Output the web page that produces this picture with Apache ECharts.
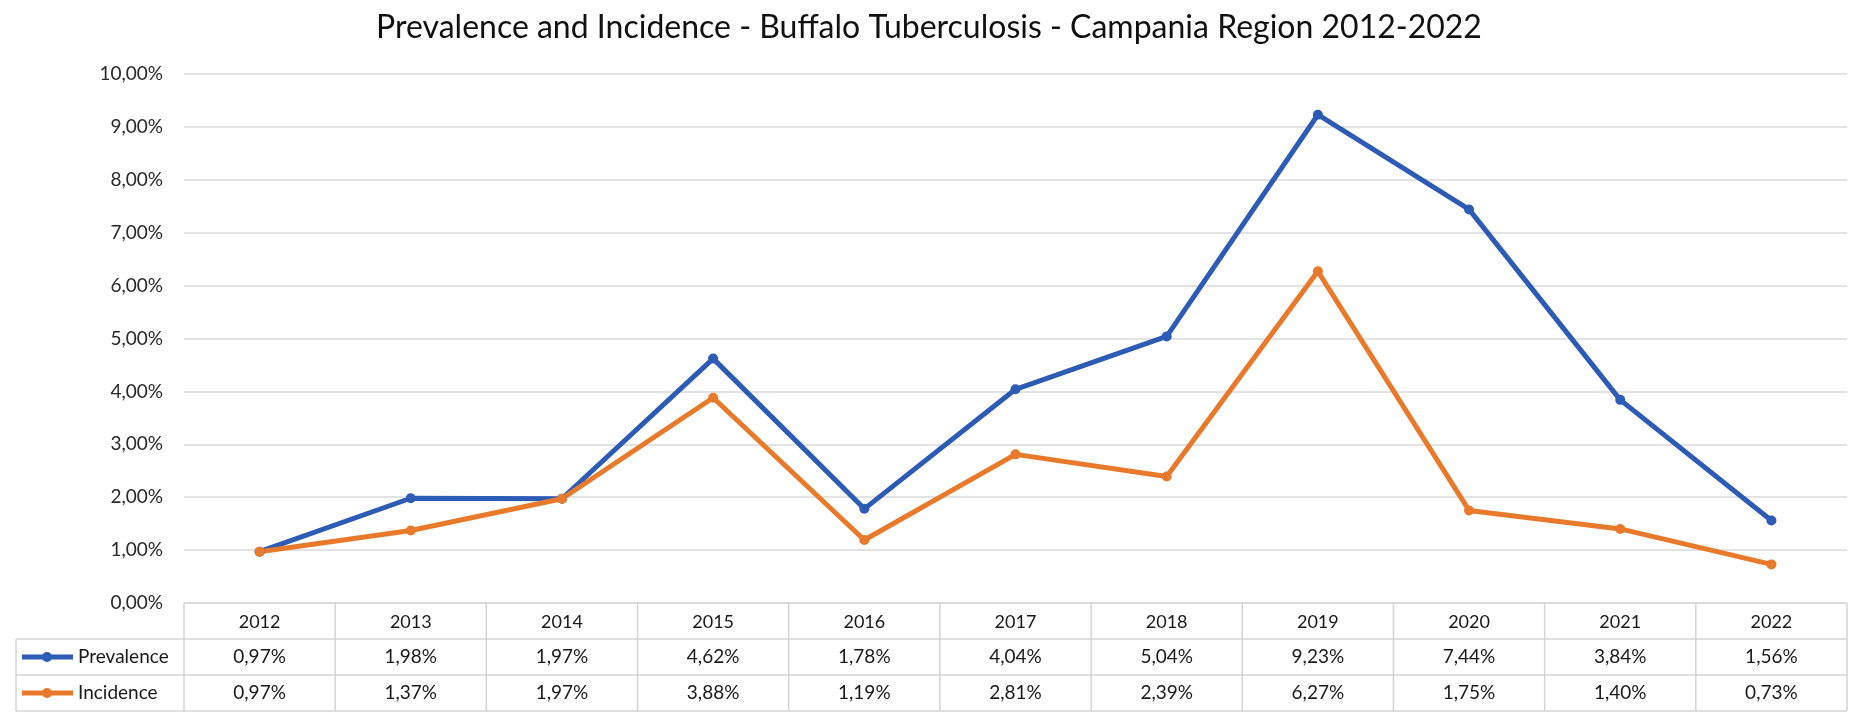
<!DOCTYPE html>
<html>
<head>
<meta charset="utf-8">
<script src="https://cdn.jsdelivr.net/npm/echarts@6/dist/echarts.min.js"></script>
<style>
  html, body { margin: 0; padding: 0; background: #fff; }
  #chart { width: 1858px; height: 715px; }
</style>
</head>
<body>
<div id="chart"></div>
<script>
var years = ['2012', '2013', '2014', '2015', '2016', '2017', '2018', '2019', '2020', '2021', '2022'];
var prevalence = [0.97, 1.98, 1.97, 4.62, 1.78, 4.04, 5.04, 9.23, 7.44, 3.84, 1.56];
var incidence = [0.97, 1.37, 1.97, 3.88, 1.19, 2.81, 2.39, 6.27, 1.75, 1.40, 0.73];
var seriesNames = ['Prevalence', 'Incidence'];
var colors = ['#2d5cb6', '#e97a2c'];

var FONT = 'Lato, "Open Sans", sans-serif';
var W = 1858, gLeft = 184, gRight = 11, gTop = 74, gBottom = 112;
var axisY = 715 - gBottom;      // y of 0% line = table top
var rowH = 36;
var legendLeft = 16;
var colW = (W - gLeft - gRight) / years.length;
var borderColor = '#d4d4d4';

function pct(v) {
    return v.toFixed(2).replace('.', ',') + '%';
}

// data table under the plot
var graphics = [];
var tableRight = W - gRight;
function hline(y, x1) {
    graphics.push({ type: 'line', shape: { x1: x1, y1: y, x2: tableRight, y2: y }, style: { stroke: borderColor, lineWidth: 1.5 }, silent: true });
}
function vline(x, y1, y2) {
    graphics.push({ type: 'line', shape: { x1: x, y1: y1, x2: x, y2: y2 }, style: { stroke: borderColor, lineWidth: 1.5 }, silent: true });
}
hline(axisY, gLeft);
hline(axisY + rowH, legendLeft);
hline(axisY + rowH * 2, legendLeft);
hline(axisY + rowH * 3, legendLeft);
vline(legendLeft, axisY + rowH, axisY + rowH * 3);
for (var i = 0; i <= years.length; i++) {
    vline(gLeft + i * colW, axisY, axisY + rowH * 3);
}
[prevalence, incidence].forEach(function (vals, r) {
    var cy = axisY + rowH * (r + 1) + rowH / 2;
    // legend key
    graphics.push({ type: 'line', shape: { x1: legendLeft + 6, y1: cy, x2: legendLeft + 57, y2: cy }, style: { stroke: colors[r], lineWidth: 5 }, silent: true });
    graphics.push({ type: 'circle', shape: { cx: legendLeft + 31, cy: cy, r: 5 }, style: { fill: colors[r] }, silent: true });
    graphics.push({ type: 'text', x: legendLeft + 62, y: cy, style: { text: seriesNames[r], font: '19px ' + FONT, fill: '#1a1a1a', align: 'left', verticalAlign: 'middle', textAlign: 'left', textVerticalAlign: 'middle' }, silent: true });
    vals.forEach(function (v, j) {
        graphics.push({ type: 'text', x: gLeft + colW * (j + 0.5), y: cy, style: { text: pct(v), font: '19px ' + FONT, fill: '#1a1a1a', align: 'center', verticalAlign: 'middle', textAlign: 'center', textVerticalAlign: 'middle' }, silent: true });
    });
});

var chart = echarts.init(document.getElementById('chart'));
var option = {
    backgroundColor: '#fff',
    animation: false,
    title: {
        text: 'Prevalence and Incidence - Buffalo Tuberculosis - Campania Region 2012-2022',
        left: 'center',
        top: 7,
        textStyle: { fontFamily: FONT, fontSize: 32, fontWeight: 'normal', color: '#111' }
    },
    grid: { left: gLeft, right: gRight, top: gTop, bottom: gBottom },
    xAxis: {
        type: 'category',
        data: years,
        boundaryGap: true,
        axisLine: { show: false },
        axisTick: { show: false },
        axisLabel: { margin: 10, fontFamily: FONT, fontSize: 18, color: '#1a1a1a' }
    },
    yAxis: {
        type: 'value',
        min: 0,
        max: 10,
        interval: 1,
        axisLine: { show: false },
        axisTick: { show: false },
        axisLabel: { margin: 21, fontFamily: FONT, fontSize: 19, color: '#2a2a2a', formatter: pct },
        splitLine: { lineStyle: { color: '#dadada', width: 1.5 } }
    },
    series: [
        {
            name: seriesNames[0], type: 'line', data: prevalence,
            symbol: 'circle', symbolSize: 10,
            lineStyle: { color: colors[0], width: 5 },
            itemStyle: { color: colors[0] }
        },
        {
            name: seriesNames[1], type: 'line', data: incidence,
            symbol: 'circle', symbolSize: 10,
            lineStyle: { color: colors[1], width: 5 },
            itemStyle: { color: colors[1] }
        }
    ],
    graphic: graphics
};
chart.setOption(option);
</script>
</body>
</html>
